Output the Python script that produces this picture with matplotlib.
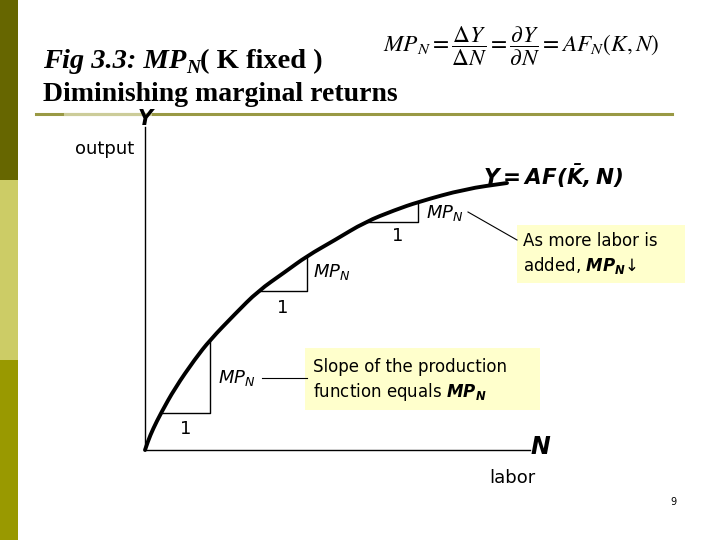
import matplotlib
matplotlib.use("Agg")
import matplotlib.pyplot as plt
from matplotlib.patches import Rectangle, PathPatch
from matplotlib.path import Path

plt.rcParams['mathtext.fontset'] = 'custom'
plt.rcParams['mathtext.bf'] = 'DejaVu Sans:italic:bold'

# production function (pixel coords, y downwards)
curve_x = [145, 148, 153, 161, 175, 195, 210, 235, 258, 285, 307, 335, 365, 395, 418, 465, 507]
curve_y = [450, 441, 429, 413, 388, 359, 340, 314, 291, 272, 256, 240, 222, 210, 202, 189, 183]

# slope triangles: left x, right x, base y, top y
tri_left = [161, 258, 365]
tri_right = [210, 307, 418]
tri_base = [413, 291, 222]
tri_top = [340, 256, 202]

# side bar segments
bar_colors = ['#666600', '#cccc66', '#999900']

fig = plt.figure(figsize=(7.2, 5.4), dpi=100)
ax = fig.add_axes([0, 0, 1, 1])
ax.set_xlim(0, 720)
ax.set_ylim(540, 0)
ax.axis('off')

for i, c in enumerate(bar_colors):
    ax.add_patch(Rectangle((0, i * 180), 18, 180, color=c, lw=0))

# header rule
ax.plot([36, 672], [114, 114], color='#999944', lw=2.2)
ax.plot([65, 150], [114, 114], color='#cccc99', lw=2.2)


def right_edge(t):
    fig.canvas.draw()
    bb = t.get_window_extent()
    return ax.transData.inverted().transform((bb.x1, bb.y0))[0]


# titles
serif = dict(family='Liberation Serif', fontweight='bold', va='baseline', ha='left')
t = ax.text(43, 68, "Fig 3.3: MP", fontsize=20.5, style='italic', **serif)
x = right_edge(t)
t = ax.text(x, 73, "N", fontsize=14, style='italic', **serif)
x = right_edge(t)
ax.text(x, 68, "( K fixed )", fontsize=20.5, **serif)
ax.text(43, 101, "Diminishing marginal returns", fontsize=20, **serif)
ax.text(383, 46, r"$MP_N = \dfrac{\Delta Y}{\Delta N} = \dfrac{\partial Y}{\partial N} = AF_N(K,N)$",
        fontsize=16.8, math_fontfamily='stix', va='center', ha='left')

# axes of the diagram
ax.plot([145, 145], [127, 450], color='black', lw=1)
ax.plot([145, 530], [450, 450], color='black', lw=1)
ax.text(145, 119, "Y", fontsize=15, fontweight='bold', style='italic', ha='center', va='center')
ax.text(105, 149, "output", fontsize=13, ha='center', va='center')
ax.text(540, 447, "N", fontsize=17, fontweight='bold', style='italic', ha='center', va='center')
ax.text(512, 478, "labor", fontsize=13, ha='center', va='center')

# smooth stroke through the read points (quadratic segments between midpoints)
pts = list(zip(curve_x, curve_y))
verts = [pts[0]]
codes = [Path.MOVETO]
for i in range(1, len(pts) - 1):
    mid = ((pts[i][0] + pts[i + 1][0]) / 2, (pts[i][1] + pts[i + 1][1]) / 2)
    verts += [pts[i], mid]
    codes += [Path.CURVE3, Path.CURVE3]
verts.append(pts[-1])
codes.append(Path.LINETO)
ax.add_patch(PathPatch(Path(verts, codes), fill=False, edgecolor='black', lw=2.8,
                       capstyle='round'))
ax.text(483, 176, r"$\mathbf{Y = AF(\bar{K}, N)}$", fontsize=15.5, math_fontfamily='custom',
        ha='left', va='center')

for xl, xr, yb, yt in zip(tri_left, tri_right, tri_base, tri_top):
    ax.plot([xl, xr, xr], [yb, yb, yt], color='black', lw=1)

# triangle labels
ax.text(186, 429, "1", fontsize=13, ha='center', va='center')
ax.text(283, 308, "1", fontsize=13, ha='center', va='center')
ax.text(398, 236, "1", fontsize=13, ha='center', va='center')
ax.text(237, 378, r"$MP_N$", fontsize=13, math_fontfamily='dejavusans', ha='center', va='center')
ax.text(332, 272, r"$MP_N$", fontsize=13, math_fontfamily='dejavusans', ha='center', va='center')
ax.text(445, 213, r"$MP_N$", fontsize=13, math_fontfamily='dejavusans', ha='center', va='center')

# callouts
ax.plot([262, 307], [378, 378], color='black', lw=0.8)
ax.plot([468, 517], [212, 240], color='black', lw=0.8)
ax.add_patch(Rectangle((305, 348), 235, 62, color='#ffffcc', lw=0))
ax.add_patch(Rectangle((517, 225), 168, 58, color='#ffffcc', lw=0))
ax.text(313, 367, "Slope of the production", fontsize=12, ha='left', va='center')
ax.text(313, 392, r"function equals $\mathbf{MP_N}$", fontsize=12, math_fontfamily='custom',
        ha='left', va='center')
ax.text(523, 241, "As more labor is", fontsize=12, ha='left', va='center')
ax.text(523, 266, r"added, $\mathbf{MP_N}$" + "\u2193", fontsize=12, math_fontfamily='custom',
        ha='left', va='center')

ax.text(673, 502, "9", fontsize=7, ha='center', va='center')

fig.savefig("out.png", dpi=100)
